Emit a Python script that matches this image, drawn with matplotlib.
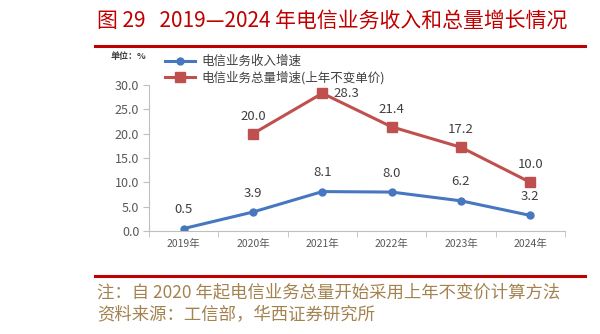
import matplotlib
matplotlib.use("Agg")
import matplotlib.pyplot as plt
import numpy as np

plt.rcParams['font.family'] = ['Noto Sans CJK SC', 'DejaVu Sans']

years = ['2019年', '2020年', '2021年', '2022年', '2023年', '2024年']
revenue_growth = [0.5, 3.9, 8.1, 8.0, 6.2, 3.2]
volume_years = ['2020年', '2021年', '2022年', '2023年', '2024年']
volume_growth = [20.0, 28.3, 21.4, 17.2, 10.0]
yticks = [0, 5, 10, 15, 20, 25, 30]

title = '图 29   2019—2024 年电信业务收入和总量增长情况'
note = '注：自 2020 年起电信业务总量开始采用上年不变价计算方法'
source = '资料来源：工信部，华西证券研究所'

W, H = 600, 334
fig = plt.figure(figsize=(W / 100, H / 100), dpi=100)

def fx(px):
    return px / W

def fy(py):
    return 1 - py / H

blue = '#4677C0'
red = '#C0504D'
red_title = '#C00000'
brown = '#A3824F'

fig.text(fx(97), fy(21), title, color=red_title, fontsize=15, va='center', ha='left')
fig.add_artist(plt.Line2D([fx(95), fx(585)], [fy(46), fy(46)], color=red_title, lw=2.2))
fig.add_artist(plt.Line2D([fx(95), fx(585)], [fy(276), fy(276)], color=red_title, lw=2.2))
fig.text(fx(97), fy(292), note, color=brown, fontsize=12.5, va='center', ha='left')
fig.text(fx(97), fy(315), source, color=brown, fontsize=12.5, va='center', ha='left')

ax = fig.add_axes([fx(149), fy(231), fx(565) - fx(149), (231 - 85) / H])
x = np.arange(len(years))
xv = np.array([years.index(y) for y in volume_years])

l1, = ax.plot(x, revenue_growth, color=blue, lw=2.2, marker='o', ms=5, label='电信业务收入增速')
l2, = ax.plot(xv, volume_growth, color=red, lw=2.2, marker='s', ms=7, label='电信业务总量增速(上年不变单价)')

ax.set_xlim(-0.5, len(years) - 0.5)
ax.set_ylim(0, 30)
ax.set_yticks(yticks)
ax.set_yticklabels([f'{v:.1f}' for v in yticks], color='#595959', fontsize=9)
ax.set_xticks(x)
ax.set_xticklabels(years, color='#595959', fontsize=7.5)
ax.set_xticks(np.arange(-0.5, len(years), 1.0), minor=True)
ax.tick_params(axis='x', which='major', length=0, pad=6)
ax.tick_params(axis='x', which='minor', length=4, color='#BFBFBF', direction='out')
ax.tick_params(axis='y', length=4, color='#BFBFBF', direction='out', pad=3)
for s in ['top', 'right']:
    ax.spines[s].set_visible(False)
ax.spines['left'].set_color('#BFBFBF')
ax.spines['bottom'].set_color('#BFBFBF')
ax.patch.set_alpha(0)

for xi, v in zip(x, revenue_growth):
    ax.annotate(f'{v:.1f}', (xi, v), xytext=(0, 9), textcoords='offset points',
                ha='center', va='bottom', fontsize=9.5, color='#404040')
for xi, v in zip(xv, volume_growth):
    if v == 28.3:
        ax.annotate(f'{v:.1f}', (xi, v), xytext=(8, 0), textcoords='offset points',
                    ha='left', va='center', fontsize=9.5, color='#404040')
    else:
        ax.annotate(f'{v:.1f}', (xi, v), xytext=(0, 8), textcoords='offset points',
                    ha='center', va='bottom', fontsize=9.5, color='#404040')

fig.text(fx(111), fy(56), '单位：%', fontsize=6.5, fontweight='bold', color='#404040', va='center', ha='left')
fig.legend(handles=[l1, l2], loc='upper left', bbox_to_anchor=(fx(165), fy(55)),
           frameon=False, fontsize=9, handlelength=2.4, handletextpad=0.5,
           labelspacing=0.25, borderaxespad=0, borderpad=0, labelcolor='#404040')

fig.savefig('out.png', dpi=100)
